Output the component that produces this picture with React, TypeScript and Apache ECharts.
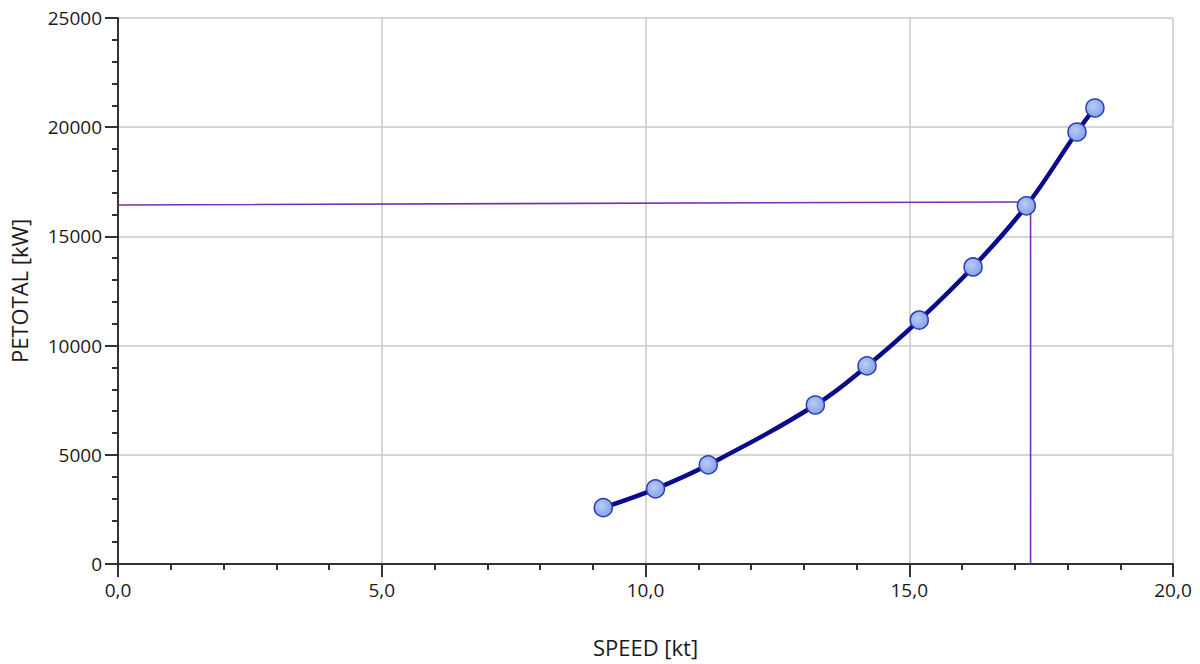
import React, { useEffect, useRef } from "react";
import * as echarts from "echarts";

const speeds = [9.2, 10.19, 11.19, 13.22, 14.2, 15.19, 16.21, 17.22, 18.18, 18.52];
const power = [2580, 3440, 4540, 7280, 9070, 11170, 13600, 16400, 19780, 20880];
const guideX = [0, 17.3, 17.3];
const guideY = [16440, 16580, 0];

const fmtX = (v: number) => v.toFixed(1).replace(".", ",");
const fmtY = (v: number) => String(Math.round(v));

export default function App() {
  const ref = useRef<HTMLDivElement>(null);
  useEffect(() => {
    const chart = echarts.init(ref.current!, null, { renderer: "svg" });
    const font = "'Open Sans', 'Noto Sans', sans-serif";
    chart.setOption({
      animation: false,
      backgroundColor: "#ffffff",
      grid: { left: 117, right: 27, top: 18, bottom: 100, containLabel: false },
      xAxis: {
        type: "value",
        min: 0,
        max: 20,
        interval: 5,
        name: "SPEED [kt]",
        nameLocation: "middle",
        nameGap: 72,
        nameTextStyle: { fontFamily: font, fontSize: 22, color: "#1a1a1a" },
        axisLine: { show: true, onZero: false, lineStyle: { color: "#333", width: 2 } },
        axisTick: { show: true, inside: false, length: 13, lineStyle: { color: "#333", width: 2 } },
        minorTick: { show: true, splitNumber: 5, length: 6, lineStyle: { color: "#333", width: 2 } },
        axisLabel: { formatter: fmtX, fontFamily: font, fontSize: 19, color: "#1a1a1a", margin: 16 },
        splitLine: { show: true, lineStyle: { color: "#c8c8c8", width: 1.5 } },
      },
      yAxis: {
        type: "value",
        min: 0,
        max: 25000,
        interval: 5000,
        name: "PETOTAL [kW]",
        nameLocation: "middle",
        nameGap: 88,
        nameTextStyle: { fontFamily: font, fontSize: 22, color: "#1a1a1a" },
        axisLine: { show: true, onZero: false, lineStyle: { color: "#333", width: 2 } },
        axisTick: { show: true, inside: false, length: 13, lineStyle: { color: "#333", width: 2 } },
        minorTick: { show: true, splitNumber: 5, length: 6, lineStyle: { color: "#333", width: 2 } },
        axisLabel: { formatter: fmtY, fontFamily: font, fontSize: 19, color: "#1a1a1a", margin: 16 },
        splitLine: { show: true, lineStyle: { color: "#c8c8c8", width: 1.5 } },
      },
      series: [
        {
          type: "line",
          data: guideX.map((x, i) => [x, guideY[i]]),
          showSymbol: false,
          symbol: "none",
          lineStyle: { color: "#7a2fb0", width: 1.6 },
          z: 1,
        },
        {
          type: "line",
          data: speeds.map((x, i) => [x, power[i]]),
          smooth: 0.4,
          symbol: "circle",
          symbolSize: 18,
          lineStyle: { color: "#0a0a8a", width: 4.5 },
          itemStyle: {
            color: new echarts.graphic.RadialGradient(0.4, 0.4, 0.7, [
              { offset: 0, color: "#b9cdf7" },
              { offset: 1, color: "#7f9be6" },
            ]),
            borderColor: "#2b3db5",
            borderWidth: 1.5,
          },
          z: 3,
        },
      ],
    });
    return () => chart.dispose();
  }, []);
  return <div ref={ref} style={{ width: 1200, height: 664, position: "absolute", left: 0, top: 0 }} />;
}
